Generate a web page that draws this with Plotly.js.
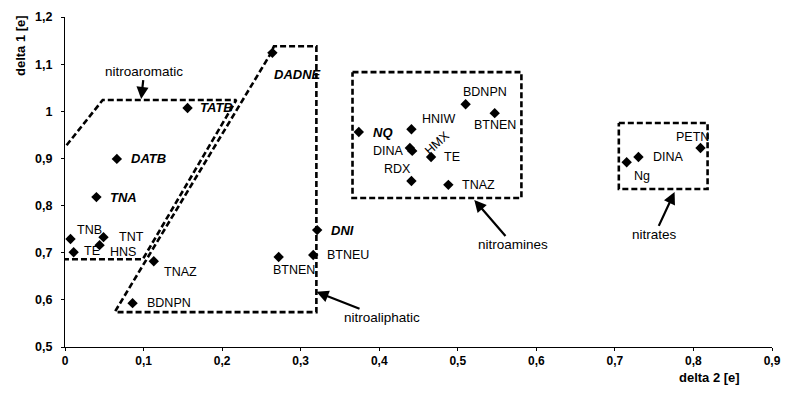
<!DOCTYPE html>
<html>
<head>
<meta charset="utf-8">
<script src="https://cdn.plot.ly/plotly-3.0.1.min.js"></script>
<style>html,body{margin:0;padding:0;background:#fff;}#chart{width:786px;height:404px;}</style>
</head>
<body>
<div id="chart"></div>
<script>
// ---- data ----
const compounds = ['TATB','DATB','TNA','DADNE','TNB','TE','TNT','HNS','TNAZ','BDNPN','BTNEN','BTNEU','DNI',
                   'NQ','HNIW','DINA','HMX','TE','RDX','TNAZ','BDNPN','BTNEN',
                   'Ng','DINA','PETN'];
const delta2 = [0.156,0.066,0.040,0.264,0.007,0.011,0.049,0.044,0.113,0.086,0.272,0.316,0.321,
                0.374,0.441,0.439,0.442,0.466,0.441,0.488,0.510,0.547,
                0.715,0.730,0.809];
const delta1 = [1.007,0.899,0.818,1.124,0.729,0.701,0.733,0.716,0.682,0.593,0.691,0.695,0.748,
                0.956,0.962,0.922,0.916,0.903,0.852,0.844,1.015,0.996,
                0.892,0.903,0.922];
const italicNames = ['TATB','DATB','TNA','DADNE','DNI','NQ'];

// group outlines (delta 2, delta 1)
const aromaticX = [0.002,0.048,0.218,0.099,0.0];
const aromaticY = [0.928,1.024,1.024,0.686,0.686];
const aliphaticX = [0.064,0.261,0.266,0.320,0.320,0.064];
const aliphaticY = [0.576,1.120,1.138,1.138,0.574,0.574];
const aminesX = [0.366,0.581,0.581,0.366,0.366];
const aminesY = [1.083,1.083,0.816,0.816,1.083];
const nitratesX = [0.705,0.818,0.818,0.705,0.705];
const nitratesY = [0.975,0.975,0.835,0.835,0.975];

const groupNames = ['nitroaromatic','nitroaliphatic','nitroamines','nitrates'];
const xTickVals = [0,0.1,0.2,0.3,0.4,0.5,0.6,0.7,0.8,0.9];
const yTickVals = [0.5,0.6,0.7,0.8,0.9,1.0,1.1,1.2];

// ---- label placement (pixel offsets from marker) ----
const labelStyle = [
  {dx:10,dy:0,a:'left'},   // TATB
  {dx:12,dy:0,a:'left'},   // DATB
  {dx:12,dy:0,a:'left'},   // TNA
  {dx:0,dy:-22,a:'left'},  // DADNE
  {dx:4,dy:9,a:'left'},    // TNB
  {dx:8,dy:1,a:'left'},    // TE
  {dx:14,dy:0,a:'left'},   // TNT
  {dx:8,dy:-7,a:'left'},   // HNS
  {dx:8,dy:-11,a:'left'},  // TNAZ
  {dx:12,dy:0,a:'left'},   // BDNPN
  {dx:-8,dy:-13,a:'left'}, // BTNEN
  {dx:12,dy:0,a:'left'},   // BTNEU
  {dx:12,dy:0,a:'left'},   // DNI
  {dx:12,dy:0,a:'left'},   // NQ
  {dx:9,dy:10,a:'left'},   // HNIW
  {dx:-4,dy:-3,a:'right'}, // DINA
  {dx:25,dy:8,a:'center',rot:-42}, // HMX
  {dx:11,dy:0,a:'left'},   // TE
  {dx:2,dy:12,a:'right'},  // RDX
  {dx:12,dy:0,a:'left'},   // TNAZ
  {dx:-5,dy:12,a:'left'},  // BDNPN
  {dx:-23,dy:-12,a:'left'},// BTNEN
  {dx:5,dy:-14,a:'left'},  // Ng
  {dx:13,dy:0,a:'left'},   // DINA
  {dx:-27,dy:11,a:'left'}  // PETN
];

const dashStyle = {color:'#000', width:2.6, dash:'6px,3px'};
function outline(x,y){
  return {x:x, y:y, type:'scatter', mode:'lines', line:dashStyle, hoverinfo:'skip', showlegend:false};
}

const traces = [
  outline(aromaticX, aromaticY),
  outline(aliphaticX, aliphaticY),
  outline(aminesX, aminesY),
  outline(nitratesX, nitratesY),
  {x:delta2, y:delta1, text:compounds, type:'scatter', mode:'markers',
   marker:{symbol:'diamond', size:8, color:'#000'}, showlegend:false}
];

const font = 'Arial, "Liberation Sans", sans-serif';
const annotations = compounds.map((c,i)=>{
  const s = labelStyle[i];
  const it = italicNames.includes(c);
  return {
    x:delta2[i], y:delta1[i], xref:'x', yref:'y', text: it ? '<b><i>'+c+'</i></b>' : c,
    showarrow:false, xanchor:s.a, yanchor:'middle', xshift:s.dx, yshift:s.dy,
    textangle: s.rot || 0,
    font:{family:font, size: it ? 13 : 12.5, color:'#000'}
  };
});

// group labels with arrows pointing to the outlines
const groupArrows = [
  {x:0.097, y:1.026, ax:3, ay:-28},
  {x:0.320, y:0.617, ax:66, ay:26},
  {x:0.521, y:0.812, ax:39, ay:45},
  {x:0.776, y:0.829, ax:-20, ay:43}
];
groupNames.forEach((g,i)=>{
  const p = groupArrows[i];
  annotations.push({
    x:p.x, y:p.y, xref:'x', yref:'y', text:g, showarrow:true,
    ax:p.ax, ay:p.ay, arrowhead:2, arrowsize:1.1, arrowwidth:2.2, arrowcolor:'#000',
    standoff:0, startstandoff:0,
    font:{family:font, size:13.5, color:'#000'}
  });
});

// axis titles
annotations.push({xref:'paper', yref:'paper', x:0, y:1, xanchor:'center', yanchor:'middle',
  xshift:-45, yshift:-29,
  text:'<b>delta 1 [e]</b>', textangle:-90, showarrow:false,
  font:{family:font, size:13, color:'#000'}});
annotations.push({xref:'paper', yref:'paper', x:0.911, y:0, xanchor:'center', yanchor:'middle',
  yshift:-30,
  text:'<b>delta 2 [e]</b>', showarrow:false,
  font:{family:font, size:13, color:'#000'}});

const layout = {
  width:786, height:404,
  margin:{l:65, r:14, t:17, b:57},
  paper_bgcolor:'#fff', plot_bgcolor:'#fff',
  separators:',.',
  showlegend:false,
  xaxis:{range:[0,0.9], tickvals:xTickVals, showgrid:false, zeroline:false,
         showline:true, linecolor:'#000', linewidth:1, ticks:'outside', ticklen:3, tickcolor:'#000',
         tickfont:{family:font, size:12, color:'#000', weight:'bold'}, fixedrange:true},
  yaxis:{range:[0.5,1.2], tickvals:yTickVals, showgrid:false, zeroline:false,
         showline:true, linecolor:'#000', linewidth:1, ticks:'outside', ticklen:3, tickcolor:'#000',
         ticklabelstandoff:6,
         tickfont:{family:font, size:12.5, color:'#000', weight:'bold'}, fixedrange:true},
  annotations:annotations
};

Plotly.newPlot('chart', traces, layout, {displayModeBar:false, staticPlot:true});
</script>
</body>
</html>
